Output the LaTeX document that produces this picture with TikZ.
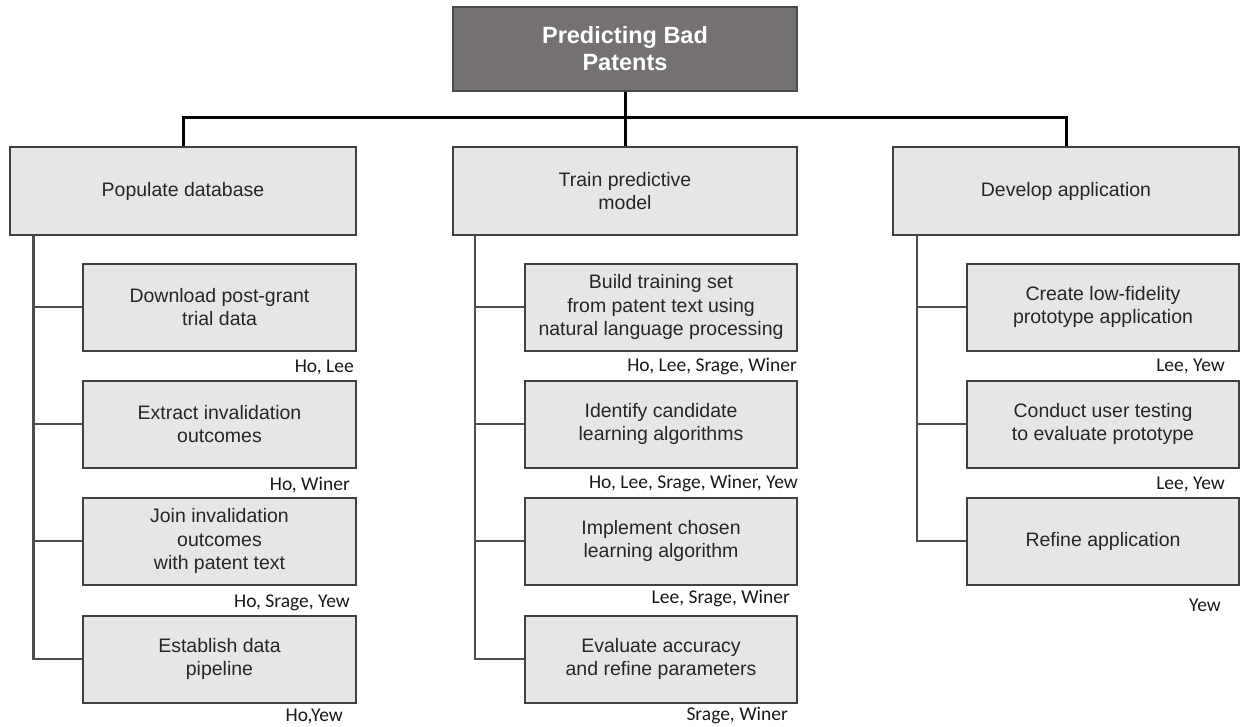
\documentclass[tikz,border=0pt]{standalone}
\usepackage{fontspec}
\setmainfont{Liberation Sans}
\newfontfamily\labfont{Carlito}
\definecolor{boxfill}{HTML}{E6E6E6}
\definecolor{boxline}{HTML}{404040}
\definecolor{topfill}{HTML}{767171}
\definecolor{topline}{HTML}{4A4A4A}
\definecolor{txt}{HTML}{262626}
\definecolor{trunkc}{HTML}{4D4D4D}
\begin{document}
\begin{tikzpicture}[x=1pt,y=-1pt,
  box/.style={draw=boxline, fill=boxfill, line width=2pt, inner sep=0pt, align=center, text=txt,
    font=\fontsize{19.5}{23.3}\selectfont},
  mainbox/.style={box, minimum width=346pt, minimum height=88pt},
  subbox/.style={box, minimum width=272pt, minimum height=87pt},
  topbox/.style={draw=topline, fill=topfill, line width=2pt, inner sep=0pt, align=center, text=white,
    font=\fontsize{23.5}{27}\selectfont\bfseries, minimum width=344pt, minimum height=84pt},
  lab/.style={anchor=east, inner sep=0pt, text height=13pt, text depth=0pt, text=black!90,
    font=\labfont\fontsize{19.5}{22}\selectfont},
  bus/.style={draw=black, line width=3pt},
  trunk/.style={draw=trunkc, line width=2.5pt}
]
\useasboundingbox (0,0) rectangle (1244,726);

% top
\node[topbox] (top) at (625,49) {Predicting Bad\\Patents};

% main boxes
\node[mainbox] (m1) at (183,191) {Populate database};
\node[mainbox, minimum width=344pt] (m2) at (625,191) {Train predictive\\model};
\node[mainbox] (m3) at (1066,191) {Develop application};

% bus
\coordinate (bus) at (625,117);
\draw[bus] (top.south) -- (m2.north);
\draw[bus] (m1.north) |- (bus) -| (m3.north);

% left column
\node[subbox, minimum width=273pt] (s11) at (219.5,307) {Download post-grant\\trial data};
\node[subbox, minimum width=273pt] (s12) at (219.5,424) {Extract invalidation\\outcomes};
\node[subbox, minimum width=273pt] (s13) at (219.5,541) {Join invalidation\\outcomes\\with patent text};
\node[subbox, minimum width=273pt] (s14) at (219.5,659) {Establish data\\pipeline};

% middle column
\node[subbox] (s21) at (661,307) {Build training set\\from patent text using\\natural language processing};
\node[subbox] (s22) at (661,424) {Identify candidate\\learning algorithms};
\node[subbox] (s23) at (661,541) {Implement chosen\\learning algorithm};
\node[subbox] (s24) at (661,659) {Evaluate accuracy\\and refine parameters};

% right column
\node[subbox] (s31) at (1103,307) {Create low-fidelity\\prototype application};
\node[subbox] (s32) at (1103,424) {Conduct user testing\\to evaluate prototype};
\node[subbox] (s33) at (1103,541) {Refine application};

% trunks
\coordinate (t1) at (33.5,235);
\coordinate (t2) at (475,235);
\coordinate (t3) at (917,235);
\draw[trunk] (t1) |- (s14.west);
\draw[trunk] (t1 |- s11.west) -- (s11.west);
\draw[trunk] (t1 |- s12.west) -- (s12.west);
\draw[trunk] (t1 |- s13.west) -- (s13.west);
\draw[trunk] (t2) |- (s24.west);
\draw[trunk] (t2 |- s21.west) -- (s21.west);
\draw[trunk] (t2 |- s22.west) -- (s22.west);
\draw[trunk] (t2 |- s23.west) -- (s23.west);
\draw[trunk] (t3) |- (s33.west);
\draw[trunk] (t3 |- s31.west) -- (s31.west);
\draw[trunk] (t3 |- s32.west) -- (s32.west);

% labels
\node[lab] (l11) at (354,366) {Ho, Lee};
\node[lab] (l12) at (350,484) {Ho, Winer};
\node[lab] (l13) at (350,601) {Ho, Srage, Yew};
\node[lab] (l14) at (343,715) {Ho,Yew};
\node[lab] (l21) at (797,365) {Ho, Lee, Srage, Winer};
\node[lab] (l22) at (798,482) {Ho, Lee, Srage, Winer, Yew};
\node[lab] (l23) at (790,597) {Lee, Srage, Winer};
\node[lab] (l24) at (788,714) {Srage, Winer};
\node[lab] (l31) at (1225,365) {Lee, Yew};
\node[lab] (l32) at (1225,483) {Lee, Yew};
\node[lab] (l33) at (1221,605) {Yew};
\end{tikzpicture}
\end{document}
